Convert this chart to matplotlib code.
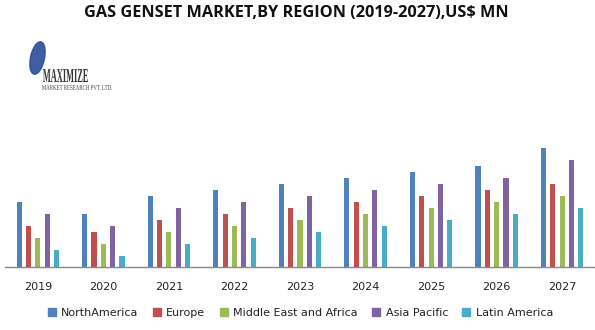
import matplotlib as mpl
mpl.use('Agg')
from matplotlib import pyplot as plt
from matplotlib.patches import Ellipse, Patch, PathPatch
from matplotlib.textpath import TextPath
from matplotlib.font_manager import FontProperties
from matplotlib.transforms import Affine2D
import numpy as np

# %%
# values (no axis shown, relative units)
years = ['2019', '2020', '2021', '2022', '2023', '2024', '2025', '2026', '2027']
regions = ['NorthAmerica', 'Europe', 'Middle East and Africa', 'Asia Pacific', 'Latin America']
north_america = [65, 53, 71, 77, 83, 89, 95, 101, 119]
europe = [41, 35, 47, 53, 59, 65, 71, 77, 83]
mea = [29, 23, 35, 41, 47, 53, 59, 65, 71]
asia_pacific = [53, 41, 59, 65, 71, 77, 83, 89, 107]
latin_america = [17, 11, 23, 29, 35, 41, 47, 53, 59]
colors = ['#4F81BD', '#C0504D', '#9BBB59', '#8064A2', '#4BACC6']

series = [north_america, europe, mea, asia_pacific, latin_america]

W, H = 595, 330

# %%
fig = plt.figure(figsize=(W/100, H/100), dpi=100)
ax = fig.add_axes([5/W, 63/H, 590/W, 137/H])

x = np.arange(len(years))
pitch = 0.142
width = 0.078
for i, (vals, c) in enumerate(zip(series, colors)):
    ax.bar(x + (i - 2) * pitch, vals, width=width, color=c, label=regions[i])

ax.set_xlim(-0.5, len(years) - 0.5)
ax.set_ylim(0, 137)
for s in ['top', 'right', 'left']:
    ax.spines[s].set_visible(False)
ax.spines['bottom'].set_color('#888888')
ax.spines['bottom'].set_linewidth(1.0)
ax.set_yticks([])
ax.set_xticks(x)
ax.set_xticklabels(years, fontsize=8, color='#222222')
ax.tick_params(axis='x', length=0, pad=11)

fig.text(296.5/W, 1 - 13/H, 'GAS GENSET MARKET,BY REGION (2019-2027),US$ MN',
         ha='center', va='center', fontsize=11.7, fontweight='bold',
         family='Open Sans', color='#111111')


# %%
# logo (drawn in pixel coords, y from top)
def squeezed_text(s, x0, x1, ytop, ybot, color, weight='normal'):
    tp = TextPath((0, 0), s, size=10,
                  prop=FontProperties(family='Liberation Serif', weight=weight))
    ext = tp.get_extents()
    sx = (x1 - x0) / ext.width
    sy = (ybot - ytop) / ext.height
    tr = Affine2D().translate(-ext.x0, -ext.y0).scale(sx, sy).translate(x0, H - ybot)
    fig.patches.append(PathPatch(tr.transform_path(tp), transform=None,
                                 color=color, lw=0))

fig.patches.append(Ellipse((37.5, H - 58), 14, 33, angle=-12, transform=None,
                           color='#2a4c9a', alpha=0.9))
squeezed_text('MAXIMIZE', 43, 88, 69, 82, '#333333', 'bold')
squeezed_text('MARKET RESEARCH PVT. LTD.', 42, 112, 85, 90, '#444444')

handles = [Patch(color=c) for c in colors]
fig.legend(handles, regions, loc='center', bbox_to_anchor=(0.505, 1 - 313/H),
           ncol=5, frameon=False, fontsize=8, handlelength=0.7, handleheight=0.7,
           handletextpad=0.5, columnspacing=1.3, labelcolor='#222222')

plt.savefig('out.png', dpi=100)
